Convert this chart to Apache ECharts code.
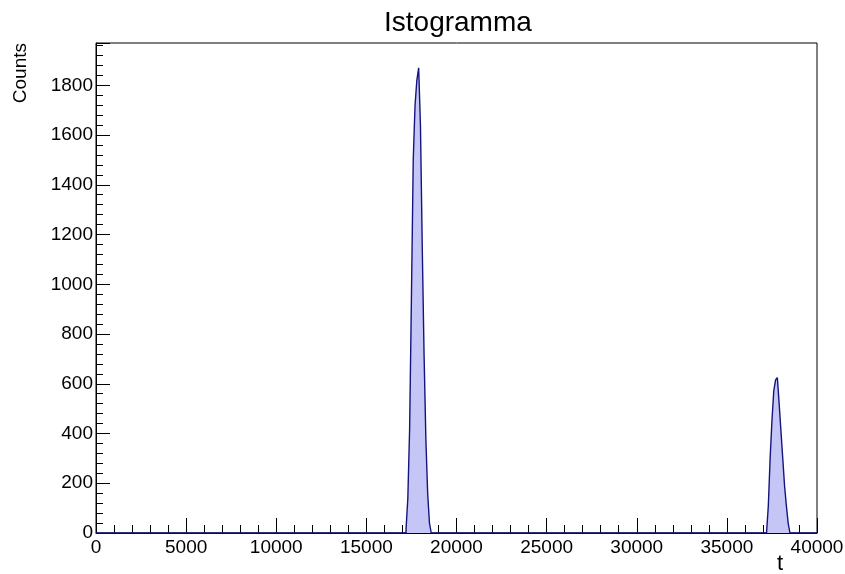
<!DOCTYPE html>
<html>
<head>
<meta charset="utf-8">
<script src="https://cdn.jsdelivr.net/npm/echarts@6/dist/echarts.min.js"></script>
<style>
html,body{margin:0;padding:0;background:#fff;}
#chart{width:845px;height:574px;}
</style>
</head>
<body>
<div id="chart"></div>
<script>
// Histogram data (bin width 100, only non-empty bins listed)
const binWidth = 100;
const peak1Low = [17200, 17300, 17400, 17500, 17600, 17700, 17800, 17900, 18000, 18100, 18200, 18300, 18400, 18500];
const peak1Counts = [15, 140, 420, 950, 1500, 1720, 1820, 1870, 1640, 1150, 720, 380, 160, 40];
const blipLow = [21000];
const blipCounts = [4];
const peak2Low = [37200, 37300, 37400, 37500, 37600, 37700, 37800, 37900, 38000, 38100, 38200, 38300, 38400];
const peak2Counts = [5, 110, 300, 450, 570, 615, 625, 520, 410, 300, 190, 110, 40];
const xMin = 0, xMax = 40000, xStep = 5000;
const yMin = 0, yMax = 1970, yStep = 200;

// build step polyline points from bins
const pts = [[xMin, 0]];
function addPeak(lows, counts) {
  for (let i = 0; i < lows.length; i++) pts.push([lows[i], counts[i]]);
  pts.push([lows[lows.length - 1] + binWidth, 0]);
}
addPeak(peak1Low, peak1Counts);
addPeak(blipLow, blipCounts);
addPeak(peak2Low, peak2Counts);
pts.push([xMax, 0]);

const font = 'Liberation Sans, Arial, sans-serif';
const chart = echarts.init(document.getElementById('chart'), null, {renderer: 'canvas'});
chart.setOption({
  animation: false,
  backgroundColor: '#ffffff',
  title: {
    text: 'Istogramma',
    left: 379, top: 4,
    textStyle: {fontFamily: font, fontSize: 28, fontWeight: 'normal', color: '#000'}
  },
  grid: {
    left: 96, right: 28, top: 43, bottom: 41,
    containLabel: false, outerBoundsMode: 'none',
    show: true, borderColor: '#000', borderWidth: 1, backgroundColor: 'transparent'
  },
  xAxis: {
    type: 'value', min: xMin, max: xMax, interval: xStep,
    name: 't', nameLocation: 'end', nameGap: -37,
    nameTextStyle: {fontFamily: font, fontSize: 22, color: '#000', align: 'center', verticalAlign: 'top', padding: [20, 0, 0, 0]},
    axisLine: {show: true, lineStyle: {color: '#000', width: 1}},
    axisTick: {show: true, inside: true, length: 15, lineStyle: {color: '#000'}},
    minorTick: {show: true, splitNumber: 5, length: 8, lineStyle: {color: '#000'}},
    axisLabel: {fontFamily: font, fontSize: 19, color: '#000', margin: 5, formatter: v => String(v)},
    splitLine: {show: false}
  },
  yAxis: {
    type: 'value', min: yMin, max: yMax, interval: yStep,
    name: 'Counts', nameLocation: 'end', nameRotate: 90, nameGap: 0,
    nameTextStyle: {fontFamily: font, fontSize: 19, color: '#000', align: 'right', verticalAlign: 'bottom', padding: [0, 0, 66, 0]},
    axisLine: {show: true, lineStyle: {color: '#000', width: 1}},
    axisTick: {show: true, inside: true, length: 14, lineStyle: {color: '#000'}},
    minorTick: {show: true, splitNumber: 5, length: 7, lineStyle: {color: '#000'}},
    axisLabel: {fontFamily: font, fontSize: 19, color: '#000', margin: 3, showMaxLabel: false, formatter: v => String(v)},
    splitLine: {show: false}
  },
  series: [{
    type: 'line',
    step: 'end',
    data: pts,
    symbol: 'none',
    lineStyle: {color: '#14147f', width: 1.4},
    areaStyle: {color: '#c6c6f6', opacity: 1}
  }]
});
</script>
</body>
</html>
